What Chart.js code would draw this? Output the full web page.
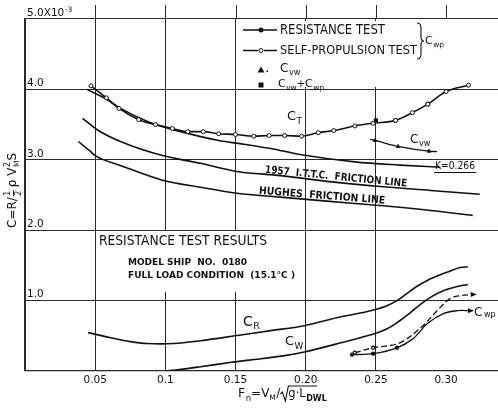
<!DOCTYPE html>
<html>
<head>
<meta charset="utf-8">
<script src="https://cdn.jsdelivr.net/npm/chart.js"></script>
<style>
html, body { margin: 0; padding: 0; background: #fff; }
canvas { display: block; }
</style>
</head>
<body>
<canvas id="myChart" width="498" height="409"></canvas>
<script>
// Froude number Fn against resistance coefficients (x 10^-3)
const ctFn  = [0.047, 0.058, 0.067, 0.081, 0.093, 0.105, 0.116, 0.127, 0.138, 0.150, 0.163, 0.174, 0.185, 0.197, 0.209, 0.220, 0.235, 0.248, 0.264, 0.276, 0.287, 0.300, 0.316];
const ctVal = [4.05, 3.88, 3.73, 3.57, 3.50, 3.445, 3.40, 3.40, 3.37, 3.36, 3.335, 3.345, 3.345, 3.335, 3.385, 3.415, 3.48, 3.52, 3.56, 3.67, 3.79, 3.97, 4.06];

// resistance test points on C_T
const rtFn  = [0.264, 0.287];
const rtVal = [3.56, 3.79];
// C_vw + C_wp
const sqFn  = [0.250];
const sqVal = [3.56];

// (1+K) Cf, K = 0.266
const kFn  = [0.044, 0.058, 0.068, 0.089, 0.111, 0.139, 0.153, 0.175, 0.196, 0.235, 0.267, 0.296];
const kVal = [4.00, 3.86, 3.73, 3.53, 3.40, 3.27, 3.23, 3.16, 3.075, 2.97, 2.925, 2.895];

const ittcFn  = [0.041, 0.052, 0.068, 0.098, 0.125, 0.151, 0.182, 0.217, 0.253, 0.289, 0.324];
const ittcVal = [3.59, 3.42, 3.26, 3.06, 2.95, 2.835, 2.775, 2.69, 2.62, 2.565, 2.51];

const hughesFn  = [0.038, 0.046, 0.050, 0.068, 0.098, 0.125, 0.151, 0.182, 0.217, 0.253, 0.289, 0.319];
const hughesVal = [3.26, 3.13, 3.06, 2.92, 2.71, 2.61, 2.525, 2.47, 2.41, 2.35, 2.28, 2.21];

const cvwFn  = [0.246, 0.2494, 0.2658, 0.2879, 0.2936];
const cvwVal = [3.29, 3.275, 3.19, 3.122, 3.117];
const cvwPtFn  = [0.2494, 0.2658, 0.2879];
const cvwPtVal = [3.275, 3.19, 3.122];

const crFn  = [0.045, 0.061, 0.075, 0.087, 0.106, 0.125, 0.150, 0.175, 0.199, 0.225, 0.241, 0.249, 0.257, 0.265, 0.272, 0.279, 0.287, 0.295, 0.303, 0.310, 0.3155];
const crVal = [0.545, 0.473, 0.417, 0.39, 0.39, 0.43, 0.50, 0.573, 0.644, 0.77, 0.83, 0.87, 0.92, 1.00, 1.10, 1.20, 1.29, 1.36, 1.42, 1.47, 1.48];

const cwFn  = [0.100, 0.110, 0.125, 0.146, 0.160, 0.184, 0.199, 0.225, 0.249, 0.258, 0.266, 0.274, 0.282, 0.290, 0.298, 0.306, 0.3155];
const cwVal = [0.0, 0.02, 0.06, 0.12, 0.155, 0.215, 0.27, 0.40, 0.53, 0.60, 0.70, 0.82, 0.95, 1.06, 1.14, 1.19, 1.23];

// C_wp: resistance test (solid) and self-propulsion test (dashed)
const wpRFn  = [0.233, 0.248, 0.265, 0.2765, 0.2865, 0.298, 0.308, 0.317];
const wpRVal = [0.232, 0.246, 0.33, 0.46, 0.67, 0.815, 0.857, 0.857];
const wpSFn  = [0.235, 0.248, 0.267, 0.2836, 0.2936, 0.3028, 0.310, 0.319];
const wpSVal = [0.26, 0.33, 0.40, 0.644, 0.857, 1.028, 1.07, 1.085];

const xTickValues = [0.05, 0.10, 0.15, 0.20, 0.25, 0.30];
const xTickLabels = ['0.05', '0.1', '0.15', '0.20', '0.25', '0.30'];
const yTickValues = [1, 2, 3, 4, 5];
const yTickLabels = ['1.0', '2.0', '3.0', '4.0', '5.0X10'];

const ink = '#111';
const gridInk = '#2a2a2a';
const FONT = '"DejaVu Sans", sans-serif';

const pts = (xs, ys) => xs.map((x, i) => ({ x: x, y: ys[i] }));

function put(c, s, x, y, size, opt) {
  opt = opt || {};
  c.font = (opt.weight || '') + ' ' + size + 'px ' + FONT;
  c.textAlign = opt.align || 'left';
  c.textBaseline = 'middle';
  c.fillStyle = ink;
  const w = c.measureText(s).width;
  if (opt.width) {
    c.save();
    c.translate(x, y);
    c.scale(opt.width / w, 1);
    c.fillText(s, 0, 0);
    c.restore();
    return x + opt.width;
  }
  c.fillText(s, x, y);
  return x + w;
}

function withSub(c, main, s, x, y, size) {
  const nx = put(c, main, x, y, size);
  return put(c, s, nx + 0.5, y + size * 0.35, size * 0.68);
}

function along(c, s, x0, y0, x1, y1, size, weight) {
  const ang = Math.atan2(y1 - y0, x1 - x0);
  const len = Math.hypot(x1 - x0, y1 - y0);
  c.save();
  c.translate((x0 + x1) / 2, (y0 + y1) / 2);
  c.rotate(ang);
  put(c, s, -len / 2, 0, size, { width: len, weight: weight });
  c.restore();
}

function arrowHead(c, x, y) {
  c.beginPath();
  c.moveTo(x + 4, y);
  c.lineTo(x - 2, y - 2.5);
  c.lineTo(x - 2, y + 2.5);
  c.closePath();
  c.fill();
}

const annot = {
  id: 'annot',
  beforeDatasetsDraw(chart) {
    const c = chart.ctx, xs = chart.scales.x, ys = chart.scales.y;
    c.save();
    // verticals run past the top frame line
    c.strokeStyle = gridInk;
    c.lineWidth = 1;
    xTickValues.forEach(v => {
      const px = Math.round(xs.getPixelForValue(v)) + 0.5;
      c.beginPath();
      c.moveTo(px, 5);
      c.lineTo(px, ys.top);
      c.stroke();
    });
    // clear panels behind the key and the caption block
    c.fillStyle = '#fff';
    c.fillRect(238, 21, 206, 66);
    c.fillRect(98, 231, 200, 61);
    c.restore();
  },
  afterDraw(chart) {
    const c = chart.ctx, xs = chart.scales.x, ys = chart.scales.y;
    c.save();
    c.fillStyle = ink;
    c.strokeStyle = ink;

    // y tick labels sit just above their lines
    yTickValues.forEach((v, i) => {
      const py = ys.getPixelForValue(v) - 6;
      const end = put(c, yTickLabels[i], 27, py, 10.5);
      if (v === 5) put(c, '-3', end + 0.5, py - 3, 7.5);
    });

    // x tick labels
    xTickValues.forEach((v, i) => {
      put(c, xTickLabels[i], xs.getPixelForValue(v), 380, 10.5, { align: 'center' });
    });

    // x axis title  Fn = V_M / sqrt(g L_DWL)
    let x = withSub(c, 'F', 'n', 238, 394, 12.5);
    x = put(c, '=V', x, 394, 12);
    x = put(c, 'M', x, 398, 7.5);
    x = put(c, '/', x + 0.5, 394, 12);
    c.lineWidth = 1.1;
    c.beginPath();
    c.moveTo(x, 394);
    c.lineTo(x + 2, 392);
    c.lineTo(x + 5, 401);
    c.lineTo(x + 8, 386);
    c.lineTo(317, 386);
    c.stroke();
    x = put(c, 'g·L', x + 8, 394, 11.5);
    put(c, 'DWL', x + 0.5, 398.5, 8, { weight: 'bold' });

    // y axis title  C = R / (1/2) rho V_M^2 S, reading upwards
    c.save();
    c.translate(13, 188);
    c.rotate(-Math.PI / 2);
    let t = put(c, 'C=R/', -40, 0, 12);
    put(c, '1', t + 1.5, -5, 8);
    c.lineWidth = 0.9;
    c.beginPath();
    c.moveTo(t + 1, 0.5);
    c.lineTo(t + 7, 0.5);
    c.stroke();
    put(c, '2', t + 1.5, 6, 8);
    t = put(c, 'ρ V', t + 10, 0, 12);
    put(c, '2', t + 0.5, -5, 8);
    put(c, 'M', t + 0.5, 4, 7.5);
    put(c, 'S', t + 7, 0, 12);
    c.restore();

    // key
    c.lineWidth = 1.3;
    c.beginPath();
    c.moveTo(243, 30); c.lineTo(277, 30);
    c.moveTo(243, 50.5); c.lineTo(258, 50.5);
    c.moveTo(264, 50.5); c.lineTo(277, 50.5);
    c.stroke();
    c.beginPath(); c.arc(261, 30, 2.5, 0, Math.PI * 2); c.fill();
    c.beginPath(); c.arc(261, 50.5, 2, 0, Math.PI * 2);
    c.fillStyle = '#fff'; c.fill(); c.fillStyle = ink; c.lineWidth = 1; c.stroke();
    put(c, 'RESISTANCE TEST', 280, 30, 13.5, { width: 105 });
    put(c, 'SELF-PROPULSION TEST', 280, 51, 13, { width: 137 });
    // brace joining the two tests
    c.lineWidth = 1.1;
    c.beginPath();
    c.moveTo(417, 23);
    c.quadraticCurveTo(421, 23, 421, 28);
    c.lineTo(421, 37);
    c.quadraticCurveTo(421, 41, 424, 41);
    c.quadraticCurveTo(421, 41, 421, 45);
    c.lineTo(421, 54);
    c.quadraticCurveTo(421, 59, 417, 59);
    c.stroke();
    withSub(c, 'C', 'wp', 425, 41, 11);
    // triangle and square symbols
    c.beginPath();
    c.moveTo(261, 66.5); c.lineTo(264.5, 72.5); c.lineTo(257.5, 72.5); c.closePath(); c.fill();
    c.fillRect(266.5, 70.5, 1.5, 1.5);
    c.fillRect(258.5, 82.5, 5, 5);
    withSub(c, 'C', 'vw', 280, 69, 12);
    let e = withSub(c, 'C', 'vw', 278, 84, 11);
    e = put(c, '+', e, 84, 10);
    withSub(c, 'C', 'wp', e, 84, 11);

    // curve labels
    withSub(c, 'C', 'T', 287, 117, 13);
    withSub(c, 'C', 'vw', 410, 140, 12);
    put(c, 'K=0.266', 435, 166, 10.5, { width: 40 });
    c.lineWidth = 1.2;
    c.beginPath(); c.moveTo(434, 172.5); c.lineTo(476, 172.5); c.stroke();
    along(c, '1957  I.T.T.C.  FRICTION LINE', 265, 170, 407, 184, 10.5, 'bold');
    along(c, 'HUGHES  FRICTION LINE', 259, 191, 385, 201, 10.5, 'bold');
    withSub(c, 'C', 'R', 243, 322, 14);
    withSub(c, 'C', 'W', 285, 342, 13);
    put(c, 'C', 474, 313, 12);
    put(c, 'wp', 484, 315, 8);

    // caption block
    put(c, 'RESISTANCE TEST RESULTS', 99, 241, 13.5, { width: 168 });
    put(c, 'MODEL SHIP  NO.  0180', 128, 263, 9.5, { width: 119, weight: 'bold' });
    put(c, 'FULL LOAD CONDITION  (15.1°C )', 128, 276, 9.5, { width: 167, weight: 'bold' });

    // arrow heads at the ends of the C_wp curves
    [9, 10].forEach(i => {
      const m = chart.getDatasetMeta(i).data;
      const p = m[m.length - 1];
      arrowHead(c, p.x, p.y);
    });
    c.restore();
  }
};

const lineBase = {
  borderColor: ink,
  borderWidth: 1.6,
  pointRadius: 0,
  fill: false,
  cubicInterpolationMode: 'monotone'
};
// smoother spline for the lower residuary curves
const smooth = { cubicInterpolationMode: 'default', tension: 0.35 };

const ctx = document.getElementById('myChart').getContext('2d');
const chart = new Chart(ctx, {
  type: 'line',
  data: {
    datasets: [
      Object.assign({}, lineBase, { data: pts(ctFn, ctVal), pointRadius: 2, pointBackgroundColor: '#fff', pointBorderColor: ink, pointBorderWidth: 1 }),   // 0
      Object.assign({}, lineBase, { data: pts(kFn, kVal) }),          // 1
      Object.assign({}, lineBase, { data: pts(ittcFn, ittcVal) }),    // 2
      Object.assign({}, lineBase, { data: pts(hughesFn, hughesVal) }),// 3
      Object.assign({}, lineBase, { data: pts(cvwFn, cvwVal), borderWidth: 1.3 }), // 4
      { data: pts(cvwPtFn, cvwPtVal), showLine: false, pointStyle: 'triangle', pointRadius: 2, backgroundColor: ink, borderColor: ink }, // 5
      { data: pts(rtFn, rtVal), showLine: false, pointRadius: 2, backgroundColor: ink, borderColor: ink }, // 6
      Object.assign({}, lineBase, smooth, { data: pts(crFn, crVal) }),        // 7
      Object.assign({}, lineBase, smooth, { data: pts(cwFn, cwVal) }),        // 8
      Object.assign({}, lineBase, smooth, { data: pts(wpRFn, wpRVal), borderWidth: 1.3, pointRadius: [1.5, 1.5, 1.5, 0, 0, 0, 0, 0], pointBackgroundColor: ink }), // 9
      Object.assign({}, lineBase, smooth, { data: pts(wpSFn, wpSVal), borderWidth: 1.3, borderDash: [6, 3], pointRadius: [1.5, 1.5, 0, 0, 0, 0, 0, 0], pointBackgroundColor: '#fff', pointBorderColor: ink }), // 10
      { data: pts(sqFn, sqVal), showLine: false, pointStyle: 'rect', pointRadius: 2.2, backgroundColor: ink, borderColor: ink } // 11
    ]
  },
  options: {
    responsive: false,
    animation: false,
    layout: { autoPadding: false, padding: { left: 25, top: 19, right: 0, bottom: 38 } },
    plugins: { legend: { display: false }, tooltip: { enabled: false } },
    scales: {
      x: {
        type: 'linear', min: 0, max: 0.337,
        ticks: { display: false, stepSize: 0.05 },
        grid: { color: c => (c.tick && c.tick.value > 0.31 ? 'rgba(0,0,0,0)' : gridInk), lineWidth: 1, drawTicks: false },
        border: { display: true, color: gridInk, width: 1.2 }
      },
      y: {
        type: 'linear', min: 0, max: 5,
        ticks: { display: false, stepSize: 1 },
        grid: { color: gridInk, lineWidth: 1.1, drawTicks: false },
        border: { display: true, color: gridInk, width: 1.2 }
      }
    }
  },
  plugins: [annot]
});
</script>
</body>
</html>
